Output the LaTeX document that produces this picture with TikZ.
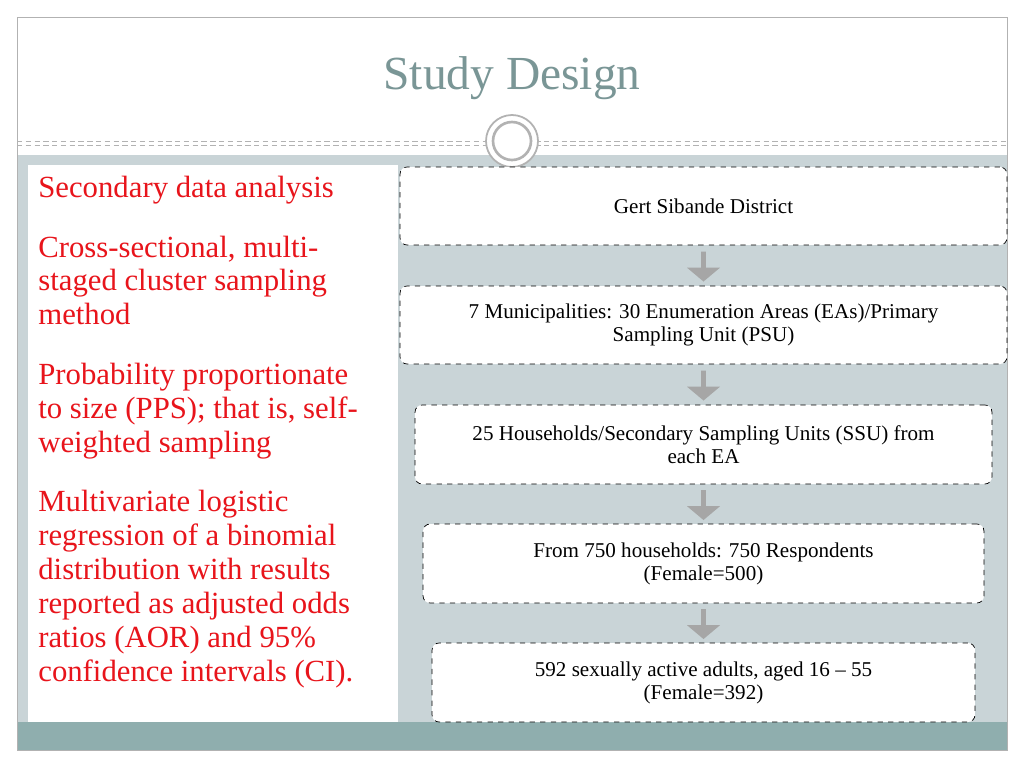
\documentclass[tikz,border=0pt]{standalone}
\usepackage{fontspec}
\setmainfont{Liberation Serif}
\usetikzlibrary{shapes.arrows, calc}
\definecolor{band}{HTML}{C9D4D7}
\definecolor{strip}{HTML}{8FAEAE}
\definecolor{titlec}{HTML}{7A9696}
\definecolor{redtxt}{HTML}{E8141B}
\tikzset{%
    stage/.style={draw=black, dashed, rounded corners=4pt, fill=white, align=center, font=\fontsize{12}{13}\selectfont, inner sep=2pt},
    down/.style={single arrow, shape border rotate=270, fill=gray!70, draw=none, minimum width=0.66cm, single arrow head extend=0.04cm, single arrow tip angle=100, minimum height=0.6cm, inner sep=0pt},
}
\begin{document}
\begin{tikzpicture}[x=0.02cm, y=-0.02cm]
    \useasboundingbox (0,0) rectangle (1024,768);
    \fill[white] (0,0) rectangle (1024,768);
    \fill[band] (17,155) rectangle (1007,750);
    \fill[strip] (17,722) rectangle (1007,750);
    \draw[gray!60] (17,17) rectangle (1007,750);
    % title and rule
    \node (title) at (512,78) {\fontsize{27}{30}\selectfont\color{titlec}Study Design};
    \draw[gray!60, densely dashed] (17,141) -- (1007,141);
    \draw[gray!60, densely dashed] (17,145) -- (1007,145);
    \filldraw[fill=white, draw=gray!60, line width=1pt] (512,141) circle (26);
    \draw[gray!60, line width=1.5pt] (512,141) circle (19);
    % left panel
    \fill[white] (28,165) rectangle (398,722);
    \node[anchor=north west, align=left, text=redtxt, font=\fontsize{17.5}{19.3}\selectfont, inner sep=0pt] (notes) at (38,176)
        {Secondary data analysis\\[14.5pt]
         Cross-sectional, multi-\\staged cluster sampling\\method\\[14.5pt]
         Probability proportionate\\to size (PPS); that is, self-\\weighted sampling\\[14.5pt]
         Multivariate logistic\\regression of a binomial\\distribution with results\\reported as adjusted odds\\ratios (AOR) and 95\%\\confidence intervals (CI).};
    % stages
    \node[stage, minimum width=12.14cm, minimum height=1.56cm] (s1) at (703.5,206) {Gert Sibande District};
    \node[stage, minimum width=12.14cm, minimum height=1.56cm] (s2) at (703.5,325) {7 Municipalities: 30 Enumeration Areas (EAs)/Primary\\Sampling Unit (PSU)};
    \node[stage, minimum width=11.54cm, minimum height=1.58cm] (s3) at (703.5,444.5) {25 Households/Secondary Sampling Units (SSU) from\\each EA};
    \node[stage, minimum width=11.22cm, minimum height=1.58cm] (s4) at (703.5,563.5) {From 750 households: 750 Respondents\\(Female=500)};
    \node[stage, minimum width=10.86cm, minimum height=1.58cm] (s5) at (703.5,682.5) {592 sexually active adults, aged 16 -- 55\\(Female=392)};
    \foreach \a/\b in {s1/s2, s2/s3, s3/s4, s4/s5}
        \node[down] at ($(\a.south)!0.5!(\b.north)$) {};
\end{tikzpicture}
\end{document}
